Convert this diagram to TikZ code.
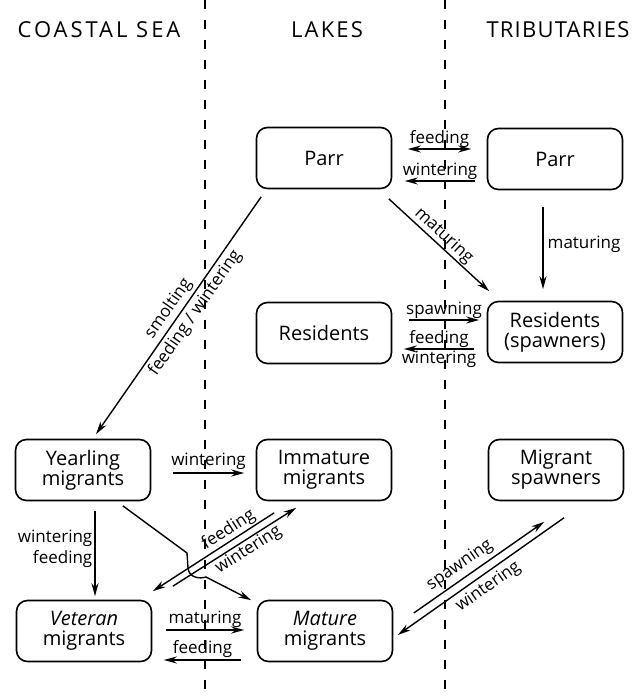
\documentclass[tikz,border=0pt]{standalone}
\usepackage{fontspec}
\setmainfont{Open Sans}
\newfontfamily\hdrA[LetterSpace=13.5]{Open Sans}
\newfontfamily\hdrB[LetterSpace=10]{Open Sans}
\newfontfamily\hdrC[LetterSpace=5.5]{Open Sans}
\usetikzlibrary{arrows.meta,calc}
\begin{document}
\begin{tikzpicture}[x=1pt,y=-1pt,
 box/.style={draw,line width=1.6pt,rounded corners=11pt,minimum width=135pt,minimum height=61pt,align=center,font=\fontsize{20}{20}\selectfont,inner sep=0pt},
 arr/.style={line width=1.4pt,-{Stealth[length=13pt,width=7pt]}},
 darr/.style={line width=1.4pt,{Stealth[length=13pt,width=7pt]}-{Stealth[length=13pt,width=7pt]}},
 lab/.style={font=\fontsize{17}{20}\selectfont,inner sep=1pt},
 divider/.style={dash pattern=on 9pt off 11pt,line width=1.3pt}]
\useasboundingbox (0,0) rectangle (632,696);
% dividers
\coordinate (d1t) at (205,0); \coordinate (d1b) at (205,696);
\coordinate (d2t) at (445,0); \coordinate (d2b) at (445,696);
\draw[divider] (d1t) -- (d1b);
\draw[divider] (d2t) -- (d2b);
% headers
\node[font=\hdrA\fontsize{22}{24}\selectfont] (hsea) at (99,30) {COASTAL SEA};
\node[font=\hdrB\fontsize{22}{24}\selectfont] (hlak) at (327,30) {LAKES};
\node[font=\hdrC\fontsize{22}{24}\selectfont] (htri) at (558,30) {TRIBUTARIES};
% boxes
\node[box] (parrL) at (324,158) {Parr};
\node[box] (parrT) at (555,159) {Parr};
\node[box] (resL) at (324,333) {Residents};
\node[box] (resS) at (555,332) {Residents\\(spawners)};
\node[box] (year) at (83,470) {Yearling\\migrants};
\node[box] (imm) at (324,470) {Immature\\migrants};
\node[box] (migS) at (556,470) {Migrant\\spawners};
\node[box] (vet) at (84,631) {\textit{Veteran}\\migrants};
\node[box] (mat) at (325,631) {\textit{Mature}\\migrants};
% connectors
\draw[darr] ([shift={(15.5,-9)}]parrL.east) -- node[lab,above] {feeding} ([shift={(-15.5,-10)}]parrT.west);
\draw[arr] ([shift={(-11.5,22)}]parrT.west) -- node[lab,above] {wintering} ([shift={(12.5,23)}]parrL.east);
\draw[arr] ([shift={(-3.5,9.5)}]parrL.south east) -- node[lab,above,sloped,pos=0.48] {maturing} ([shift={(2.5,-9.5)}]resS.north west);
\draw[arr] ([shift={(-12,16.5)}]parrT.south) -- node[lab,right=3pt,pos=0.45] {maturing} ([shift={(-12,-11.5)}]resS.north);
\draw[arr] ([shift={(5.5,7.5)}]parrL.south west) -- node[lab,above=2pt,sloped,pos=0.5] {smolting} node[lab,below=2pt,sloped,pos=0.46] {feeding / wintering} ([shift={(13,-4.5)}]year.north);
\draw[arr] ([shift={(16.5,-13)}]resL.east) -- node[lab,above] {spawning} ([shift={(-7.5,-12)}]resS.west);
\draw[arr] ([shift={(-12.5,17)}]resS.west) -- node[lab,above] {feeding} node[lab,below] {wintering} ([shift={(11.5,16)}]resL.east);
\draw[arr] ([shift={(21.5,3)}]year.east) -- node[lab,above=2pt] {wintering} ([shift={(-11.5,3)}]imm.west);
\draw[arr] ([shift={(12,9.5)}]year.south) -- node[lab,left=1pt,align=right,pos=0.45,font=\fontsize{17}{21}\selectfont] {wintering\\feeding} ([shift={(11,-3.5)}]vet.north);
\coordinate (h1) at (187,553);
\coordinate (h2) at (188,568);
\coordinate (h3) at (206,577);
\draw[arr] ([shift={(-28.5,4.5)}]year.south east) -- (h1) -- (h2) .. controls (189,578) and (200,579) .. (h3) -- ([shift={(-5.5,0.5)}]mat.north west);
\draw[arr] ([shift={(18.5,11.5)}]imm.south west) -- node[lab,above,sloped,pos=0.33] {feeding} ([shift={(0.5,-8.5)}]vet.north east);
\draw[arr] ([shift={(20.5,-13.5)}]vet.north east) -- node[lab,below,sloped,pos=0.57] {wintering} ([shift={(40.5,6.5)}]imm.south west);
\draw[arr] ([shift={(13.5,-1)}]vet.east) -- node[lab,above=1pt] {maturing} ([shift={(-12.5,-1)}]mat.west);
\draw[arr] ([shift={(-15.5,29)}]mat.west) -- node[lab,above=1pt] {feeding} ([shift={(11.5,29)}]vet.east);
\draw[arr] ([shift={(20.5,-18)}]mat.east) -- node[lab,above=3pt,sloped,pos=0.41] {spawning} ([shift={(56.5,20.5)}]migS.south west);
\draw[arr] ([shift={(8,16.5)}]migS.south) -- node[lab,below=3pt,sloped,pos=0.5] {wintering} ([shift={(4.5,4)}]mat.east);
\end{tikzpicture}
\end{document}
